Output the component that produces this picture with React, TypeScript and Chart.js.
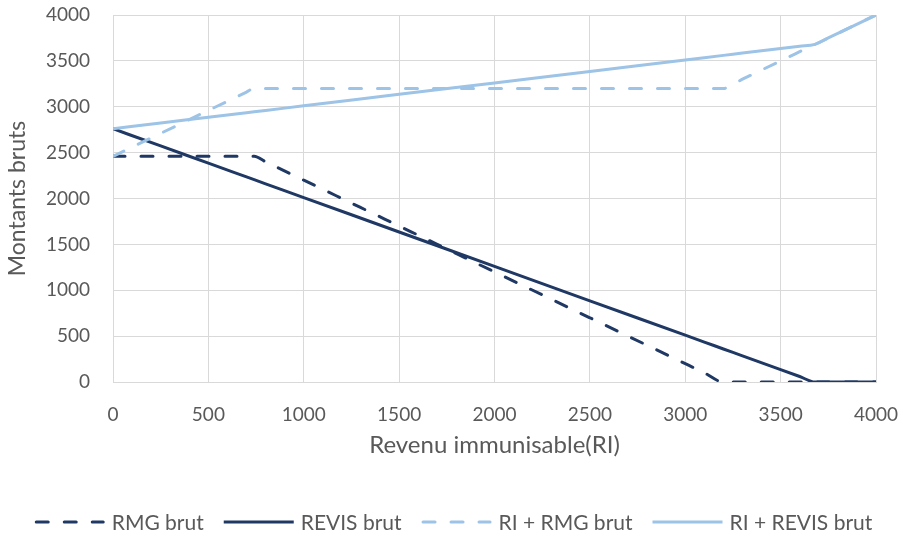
import React, { useEffect, useRef } from "react";
import { Chart, registerables } from "chart.js";

Chart.register(...registerables);

const xValues = [0, 250, 500, 700, 740, 800, 1000, 1500, 2000, 2500, 3000, 3100, 3200, 3300, 3500, 3600, 3680, 3750, 4000];
const rmgBrut = [2460, 2460, 2460, 2460, 2460, 2400, 2200, 1700, 1200, 700, 200, 100, 0, 0, 0, 0, 0, 0, 0];
const revisBrut = [2760, 2573, 2385, 2235, 2205, 2160, 2010, 1635, 1260, 885, 510, 435, 360, 285, 135, 60, 0, 0, 0];
const riRmgBrut = [2460, 2710, 2960, 3160, 3200, 3200, 3200, 3200, 3200, 3200, 3200, 3200, 3200, 3300, 3500, 3600, 3680, 3750, 4000];
const riRevisBrut = [2760, 2823, 2885, 2935, 2945, 2960, 3010, 3135, 3260, 3385, 3510, 3535, 3560, 3585, 3635, 3660, 3680, 3750, 4000];

const seriesLabels = ["RMG brut", "REVIS brut", "RI + RMG brut", "RI + REVIS brut"];
const xTitle = "Revenu immunisable(RI)";
const yTitle = "Montants bruts";

const DARK = "#1F3864";
const LIGHT = "#9DC3E6";
const TEXT = "#595959";
const GRID = "#D9D9D9";
const FONT = "Lato";

function pts(ys: number[]) {
  return xValues.map((x, i) => ({ x, y: ys[i] }));
}

const legendPlugin = {
  id: "customLegend",
  afterDraw(chart: any) {
    const ctx = chart.ctx as CanvasRenderingContext2D;
    ctx.save();
    ctx.font = `21px ${FONT}`;
    const sample = 70;
    const gapText = 7;
    const gapItem = 20;
    const dsets = chart.data.datasets as any[];
    const items = dsets.map((ds) => ({ ds, w: sample + gapText + ctx.measureText(ds.label).width }));
    const total = items.reduce((a, b) => a + b.w, 0) + gapItem * (items.length - 1);
    let x = (chart.width - total) / 2 + 2;
    const y = 522;
    for (const it of items) {
      const ds = it.ds;
      const dashed = ds.borderDash && ds.borderDash.length > 0;
      ctx.strokeStyle = ds.borderColor;
      ctx.lineWidth = ds.borderWidth;
      ctx.setLineDash(dashed ? ds.borderDash : []);
      ctx.lineCap = ds.borderCapStyle;
      ctx.beginPath();
      if (dashed) {
        ctx.moveTo(x + 1.5, y);
        ctx.lineTo(x + sample - 1.5, y);
      } else {
        ctx.moveTo(x, y);
        ctx.lineTo(x + sample, y);
      }
      ctx.stroke();
      ctx.setLineDash([]);
      ctx.fillStyle = TEXT;
      ctx.textBaseline = "middle";
      ctx.textAlign = "left";
      ctx.fillText(ds.label, x + sample + gapText, y + 1);
      x += it.w + gapItem;
    }
    ctx.restore();
  },
};

export default function App() {
  const ref = useRef<HTMLCanvasElement | null>(null);
  useEffect(() => {
    document.body.style.overflow = "hidden";
    const canvas = ref.current!;
    const mk = (label: string, data: number[], color: string, dashed: boolean, order: number) => ({
      label,
      data: pts(data),
      borderColor: color,
      backgroundColor: color,
      borderWidth: 3,
      borderDash: dashed ? [12, 16] : [],
      borderCapStyle: dashed ? "round" : "butt",
      pointRadius: 0,
      pointHoverRadius: 0,
      cubicInterpolationMode: "monotone",
      fill: false,
      order,
    });
    const chart = new Chart(canvas, {
      type: "line",
      data: {
        datasets: [
          mk(seriesLabels[0], rmgBrut, DARK, true, 3),
          mk(seriesLabels[1], revisBrut, DARK, false, 2),
          mk(seriesLabels[2], riRmgBrut, LIGHT, true, 1),
          mk(seriesLabels[3], riRevisBrut, LIGHT, false, 0),
        ] as any,
      },
      plugins: [legendPlugin],
      options: {
        animation: false,
        responsive: false,
        maintainAspectRatio: false,
        layout: { padding: { left: 0, right: 27, top: 15, bottom: 47 } },
        scales: {
          x: {
            type: "linear",
            min: 0,
            max: 4000,
            ticks: {
              stepSize: 500,
              color: TEXT,
              font: { family: FONT, size: 19 },
              padding: 0,
              maxRotation: 0,
              callback: (v: any) => String(v),
            },
            grid: { color: GRID, drawTicks: true, tickLength: 21, tickColor: "rgba(0,0,0,0)", lineWidth: 1 },
            border: { color: GRID },
            title: { display: true, text: xTitle, color: TEXT, font: { family: FONT, size: 24 }, padding: { top: 0, bottom: 30 } },
            afterFit: (s: any) => { s.height = 108; },
          },
          y: {
            type: "linear",
            min: 0,
            max: 4000,
            ticks: {
              stepSize: 500,
              color: TEXT,
              font: { family: FONT, size: 19 },
              padding: 0,
              callback: (v: any) => String(v),
            },
            grid: { color: GRID, drawTicks: true, tickLength: 23, tickColor: "rgba(0,0,0,0)", lineWidth: 1 },
            border: { color: GRID },
            title: { display: true, text: yTitle, color: TEXT, font: { family: FONT, size: 23 }, padding: { top: 4, bottom: 0 } },
            afterFit: (s: any) => { s.width = 113; },
          },
        },
        plugins: {
          legend: { display: false },
          tooltip: { enabled: false },
        },
      } as any,
    });
    return () => chart.destroy();
  }, []);
  return (
    <div style={{ position: "absolute", left: 0, top: 0, width: 903, height: 537, overflow: "hidden", background: "#fff" }}>
      <canvas ref={ref} width={903} height={537} style={{ width: 903, height: 537, display: "block" }} />
    </div>
  );
}
